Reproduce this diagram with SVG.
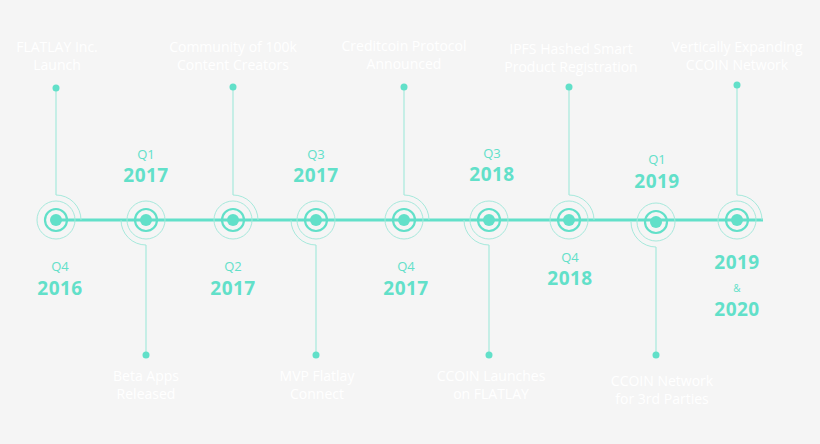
<svg xmlns="http://www.w3.org/2000/svg" width="820" height="444" viewBox="0 0 820 444">
<style>
.bg{fill:#f5f5f5}
.lbl{fill:#ffffff;font-family:"Open Sans","DejaVu Sans",sans-serif;font-size:14px;text-anchor:middle}
.q{fill:#62e0c9;font-family:"Open Sans","DejaVu Sans",sans-serif;font-size:13px;text-anchor:middle}
.yr{fill:#62e0c9;font-family:"Open Sans","DejaVu Sans",sans-serif;font-size:19px;font-weight:bold;text-anchor:middle;letter-spacing:0.5px}
.amp{fill:#62e0c9;font-family:"Open Sans","DejaVu Sans",sans-serif;font-size:10px;text-anchor:middle}
.axis{stroke:#62e0c9;stroke-width:3;fill:none}
.stem{stroke:#a6e9dc;stroke-width:1.2;fill:none}
.dot{fill:#62e0c9}
.core{fill:#62e0c9}
.ring{fill:none;stroke:#62e0c9;stroke-width:2.2}
.outer{fill:none;stroke:#a6e9dc;stroke-width:1}
.arc{fill:none;stroke:#a6e9dc;stroke-width:1}
</style>
<defs>
<g id="node">
<circle class="outer" r="19"/>
<circle class="ring" r="11"/>
<circle class="core" r="6"/>
</g>
<path id="arcUp" class="arc" d="M0,-25 A25,25 0 0 1 25,0"/>
<path id="arcDown" class="arc" d="M-25,0 A25,25 0 0 0 0,25"/>
</defs>
<rect class="bg" x="0" y="0" width="820" height="444"/>
<g id="connectors">
<line class="axis" x1="56" y1="220" x2="763" y2="220"/>
<line class="stem" x1="56" y1="88" x2="56" y2="195"/>
<line class="stem" x1="233" y1="87" x2="233" y2="195"/>
<line class="stem" x1="404" y1="87" x2="404" y2="195"/>
<line class="stem" x1="569" y1="87" x2="569" y2="195"/>
<line class="stem" x1="737" y1="85" x2="737" y2="195"/>
<line class="stem" x1="146" y1="245" x2="146" y2="355"/>
<line class="stem" x1="316" y1="245" x2="316" y2="355"/>
<line class="stem" x1="489" y1="245" x2="489" y2="355"/>
<line class="stem" x1="656" y1="247" x2="656" y2="355"/>
<circle class="dot" cx="56" cy="88" r="3.5"/>
<circle class="dot" cx="233" cy="87" r="3.5"/>
<circle class="dot" cx="404" cy="87" r="3.5"/>
<circle class="dot" cx="569" cy="87" r="3.5"/>
<circle class="dot" cx="737" cy="85" r="3.5"/>
<circle class="dot" cx="146" cy="355" r="3.5"/>
<circle class="dot" cx="316" cy="355" r="3.5"/>
<circle class="dot" cx="489" cy="355" r="3.5"/>
<circle class="dot" cx="656" cy="355" r="3.5"/>
</g>
<g id="n1" transform="translate(56,220)"><use href="#node"/><use href="#arcUp"/></g>
<g id="n2" transform="translate(146,220)"><use href="#node"/><use href="#arcDown"/></g>
<g id="n3" transform="translate(233,220)"><use href="#node"/><use href="#arcUp"/></g>
<g id="n4" transform="translate(316,220)"><use href="#node"/><use href="#arcDown"/></g>
<g id="n5" transform="translate(404,220)"><use href="#node"/><use href="#arcUp"/></g>
<g id="n6" transform="translate(489,220)"><use href="#node"/><use href="#arcDown"/></g>
<g id="n7" transform="translate(569,220)"><use href="#node"/><use href="#arcUp"/></g>
<g id="n8" transform="translate(656,222)"><use href="#node"/><use href="#arcDown"/></g>
<g id="n9" transform="translate(737,220)"><use href="#node"/><use href="#arcUp"/></g>
<g id="labels-top">
<text class="lbl" x="57" y="52">FLATLAY Inc.</text><text class="lbl" x="57" y="69.5">Launch</text>
<text class="lbl" x="233" y="52">Community of 100k</text><text class="lbl" x="233" y="69.5">Content Creators</text>
<text class="lbl" x="404" y="51">Creditcoin Protocol</text><text class="lbl" x="404" y="68.5">Announced</text>
<text class="lbl" x="571" y="54">IPFS Hashed Smart</text><text class="lbl" x="571" y="71.5">Product Registration</text>
<text class="lbl" x="737" y="52">Vertically Expanding</text><text class="lbl" x="737" y="69.5">CCOIN Network</text>
</g>
<g id="labels-bottom">
<text class="lbl" x="146" y="381">Beta Apps</text><text class="lbl" x="146" y="398.5">Released</text>
<text class="lbl" x="317" y="381">MVP Flatlay</text><text class="lbl" x="317" y="398.5">Connect</text>
<text class="lbl" x="491" y="381">CCOIN Launches</text><text class="lbl" x="491" y="398.5">on FLATLAY</text>
<text class="lbl" x="662" y="386">CCOIN Network</text><text class="lbl" x="662" y="403.5">for 3rd Parties</text>
</g>
<g id="dates">
<text class="q" x="146" y="159">Q1</text><text class="yr" x="146" y="182">2017</text>
<text class="q" x="316" y="159">Q3</text><text class="yr" x="316" y="182">2017</text>
<text class="q" x="492" y="158">Q3</text><text class="yr" x="492" y="181">2018</text>
<text class="q" x="657" y="164">Q1</text><text class="yr" x="657" y="188">2019</text>
<text class="q" x="60" y="271">Q4</text><text class="yr" x="60" y="295">2016</text>
<text class="q" x="233" y="271">Q2</text><text class="yr" x="233" y="295">2017</text>
<text class="q" x="406" y="271">Q4</text><text class="yr" x="406" y="295">2017</text>
<text class="q" x="570" y="262">Q4</text><text class="yr" x="570" y="285">2018</text>
<text class="yr" x="737" y="269">2019</text>
<text class="amp" x="737" y="292">&amp;</text>
<text class="yr" x="737" y="316">2020</text>
</g>
</svg>
